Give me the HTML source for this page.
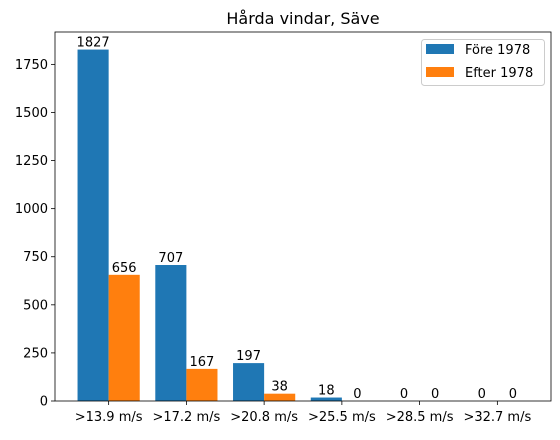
<!DOCTYPE html>
<html><head><meta charset="utf-8"><style>
body{margin:0;background:#fff;}
svg{font-family:"DejaVu Sans","Liberation Sans",sans-serif;}
</style></head><body>
<svg id="chart" width="560" height="435" xmlns="http://www.w3.org/2000/svg"></svg>
<script>
const categories=[">13.9 m/s",">17.2 m/s",">20.8 m/s",">25.5 m/s",">28.5 m/s",">32.7 m/s"];
const foreValues=[1827,707,197,18,0,0];
const efterValues=[656,167,38,0,0,0];
const yTicks=[0,250,500,750,1000,1250,1500,1750];
const svg=document.getElementById('chart');
const NS='http://www.w3.org/2000/svg';
const X0=55,X1=551,Y0=401,Y1=32;
const n=categories.length;
const xmin=-0.4-0.05*(n-1+0.8),xmax=n-1+0.4+0.05*(n-1+0.8);
const allV=foreValues.concat(efterValues);
const ymax=Math.max(...allV)*1.05;
const xs=v=>X0+(v-xmin)/(xmax-xmin)*(X1-X0);
const ys=v=>Y0-v/ymax*(Y0-Y1);
function mk(tag,attrs,text){const e=document.createElementNS(NS,tag);for(const k in attrs)e.setAttribute(k,attrs[k]);if(text!==undefined)e.textContent=text;svg.appendChild(e);return e;}
let t=mk('text',{x:303,y:24,'text-anchor':'middle','font-size':'16'},'Hårda vindar, Säve');


const series=[[foreValues,'#1f77b4',-0.4,'fore'],[efterValues,'#ff7f0e',0,'efter']];
series.forEach(([vals,col,off,nm])=>{
 vals.forEach((v,i)=>{
  const r=mk('rect',{x:xs(i+off),y:ys(v),width:xs(i+off+0.4)-xs(i+off),height:Y0-ys(v),fill:col});
  
  
  const l=mk('text',{x:xs(i+off+0.2),y:ys(v)-3,'text-anchor':'middle','font-size':'13'},String(v));
  
  
 });
});
yTicks.forEach(v=>{
 const y=ys(v);
 const tk=mk('line',{x1:X0-4,x2:X0,y1:y,y2:y,stroke:'#000','stroke-width':'0.8'});
 
 
 const l=mk('text',{x:X0-7,y:y+4.5,'text-anchor':'end','font-size':'13'},String(v));
 
 
});
categories.forEach((c,i)=>{
 const x=xs(i);
 const tk=mk('line',{x1:x,x2:x,y1:Y0,y2:Y0+4,stroke:'#000','stroke-width':'0.8'});
 
 
 const l=mk('text',{x:x,y:Y0+20,'text-anchor':'middle','font-size':'13'},c);
 
 
});
const fr=mk('rect',{x:X0,y:Y1,width:X1-X0,height:Y0-Y1,fill:'none',stroke:'#000','stroke-width':'0.8'});


const lg=mk('rect',{x:421.5,y:39.5,width:123,height:46,rx:3,fill:'#fff','fill-opacity':'0.8',stroke:'#ccc','stroke-width':'1'});


[['Före 1978','#1f77b4',49],['Efter 1978','#ff7f0e',72]].forEach(([lab,col,y],k)=>{
 const p=mk('rect',{x:426,y:y-5,width:28,height:10,fill:col});
 
 
 const l=mk('text',{x:465,y:y+5,'font-size':'13'},lab);
 
 
});
</script>
</body></html>
